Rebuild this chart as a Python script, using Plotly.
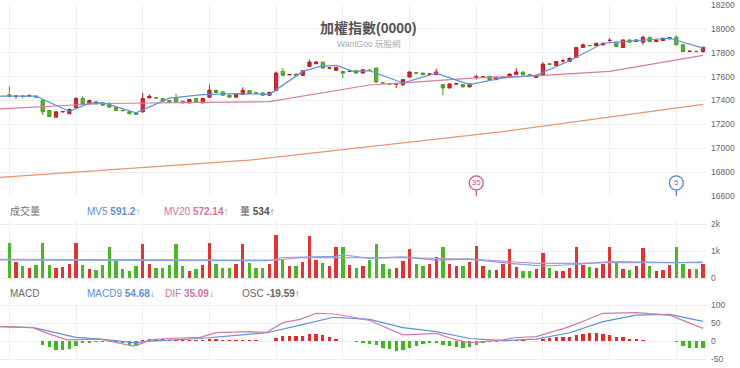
import plotly.graph_objects as go

# ---------------- data ----------------
idx = list(range(105))
opens = [17447,17434,17438,17436,17437,17400,17316,17261,17304,17289,
         17339,17417,17372,17389,17380,17366,17344,17318,17305,17297,
         17305,17422,17424,17417,17400,17417,17394,17380,17417,17380,
         17428,17486,17472,17444,17428,17450,17483,17465,17464,17444,
         17483,17644,17615,17622,17611,17686,17708,17722,17671,17653,
         17644,17643,17650,17630,17655,17672,17548,17540,17537,17533,
         17597,17632,17630,17621,17617,17533,17505,17538,17533,17514,
         17596,17597,17603,17575,17592,17594,17617,17639,17618,17594,
         17611,17707,17694,17732,17727,17761,17844,17862,17861,17866,
         17903,17889,17844,17908,17894,17889,17930,17894,17903,17917,
         17930,17867,17811,17812,17811]
highs = [17518,17442,17441,17447,17440,17405,17320,17310,17312,17332,
         17428,17436,17408,17395,17385,17388,17348,17322,17308,17300,
         17464,17450,17430,17420,17403,17456,17397,17412,17420,17420,
         17533,17489,17475,17447,17458,17511,17486,17469,17467,17472,
         17644,17672,17622,17625,17653,17742,17733,17725,17676,17681,
         17647,17648,17653,17662,17662,17675,17555,17545,17544,17580,
         17644,17636,17633,17626,17667,17536,17545,17545,17536,17542,
         17617,17605,17606,17598,17598,17625,17672,17642,17621,17614,
         17722,17712,17730,17750,17758,17847,17880,17866,17884,17884,
         17922,17892,17911,17911,17911,17944,17933,17909,17925,17931,
         17950,17870,17820,17818,17850]
lows = [17428,17415,17418,17432,17425,17278,17260,17250,17300,17285,
        17335,17362,17368,17368,17356,17340,17312,17310,17285,17279,
        17300,17418,17415,17390,17383,17385,17377,17377,17383,17377,
        17425,17464,17441,17425,17425,17447,17455,17460,17441,17441,
        17480,17608,17612,17605,17608,17683,17705,17669,17668,17650,
        17589,17640,17627,17627,17648,17550,17538,17532,17505,17520,
        17594,17627,17614,17618,17614,17444,17502,17535,17511,17511,
        17575,17592,17572,17572,17589,17591,17614,17614,17613,17591,
        17608,17700,17691,17714,17724,17758,17841,17856,17858,17864,
        17880,17850,17841,17886,17891,17866,17891,17891,17900,17914,
        17864,17808,17805,17805,17800]
closes = [17436,17438,17435,17443,17428,17305,17266,17305,17308,17325,
          17417,17367,17400,17372,17361,17344,17316,17315,17289,17283,
          17417,17436,17422,17394,17386,17389,17380,17408,17386,17417,
          17486,17467,17444,17428,17455,17486,17458,17463,17444,17469,
          17630,17611,17618,17608,17650,17722,17722,17672,17673,17678,
          17630,17645,17630,17658,17653,17555,17546,17538,17539,17575,
          17639,17630,17617,17623,17639,17505,17539,17540,17514,17539,
          17598,17598,17575,17594,17595,17622,17639,17617,17616,17611,
          17705,17704,17727,17734,17755,17844,17867,17860,17880,17880,
          17905,17853,17908,17889,17908,17930,17894,17906,17922,17928,
          17867,17811,17813,17810,17847]

volume = [1284,605,445,358,482,1309,482,383,420,519,
          1284,482,333,296,482,1161,642,333,259,445,
          1260,519,358,358,482,1247,445,272,333,482,
          1284,519,358,358,506,1260,543,358,358,519,
          1593,667,457,445,605,1556,667,543,457,1136,
          1161,482,358,457,667,1247,506,333,383,630,
          1062,519,445,506,766,1161,506,445,445,605,
          1186,457,296,296,519,1062,420,259,259,333,
          914,358,272,259,383,1161,482,420,383,506,
          1136,543,321,296,445,1124,445,259,296,482,
          1161,506,333,333,534]

osc = [1,1,1,1,1,-11,-16,-25,-25,-23,
       -14,-6,-5,-3,-3,-2,-3,-6,-12,-14,
       2,5,6,5,4,3,2,2,2,2,
       6,6,4,3,3,3,3,2,1,1,
       7,14,14,14,14,19,20,16,12,6,
       1,0.5,-4,-5,-8,-12,-20,-23,-27,-25,
       -19,-14,-8,-6,-5,-12,-14,-16,-19,-16,
       -11,-6,-4,-2,-1,1,2,2,1,1,
       5,8,10,10,12,17,19,21,21,19,
       17,12,10,6,5,3,1,0.3,0.3,-1,
       -4,-14,-19,-20,-19.59]

# moving-average lines, read at their visible vertices
ma5_x = [-1.4, 4, 9, 12, 14, 19, 24, 29, 34, 39, 44, 46.6, 49, 51.6, 54, 59, 64, 69, 74, 79, 84, 89, 94, 99, 104]
ma5_y = [17436, 17436, 17308, 17378, 17382, 17297, 17420, 17450, 17458, 17452, 17644, 17686, 17694, 17644,
         17650, 17547, 17630, 17533, 17589, 17611, 17733, 17880, 17903, 17922, 17839]
ma20_x = [-1.4, 9, 14, 39, 54, 59, 70, 80, 90, 104]
ma20_y = [17330, 17360, 17375, 17390, 17530, 17547, 17589, 17610, 17645, 17778]
malong_x = [-1.4, 36, 74, 104]
malong_y = [16756, 16900, 17139, 17367]

mv5_x = [-1.4, 20, 39, 41, 49, 50, 54, 59, 64, 69, 75, 80, 85, 90, 95, 100, 104]
mv5_y = [667, 640, 640, 760, 800, 860, 730, 780, 660, 700, 540, 445, 500, 605, 580, 570, 591.2]
mv20_x = [-1.4, 40, 44, 52, 60, 69, 79, 85, 90, 104]
mv20_y = [690, 660, 760, 760, 750, 700, 545, 545, 570, 572.14]

macd_x = [-1.4, 3.6, 10, 13.6, 19, 20.5, 28.6, 38.6, 43.6, 48.6, 54, 59, 64, 69, 74, 79, 84, 89, 94, 99, 104]
macd_y = [40, 37, 10, 5, -5, -1, 7, 23, 44, 66, 60, 37, 26, 7, 1, 5, 23, 54, 72, 74, 54.68]
dif_x = [-1.4, 3.6, 5, 8.6, 13.6, 18.6, 20, 21, 23.6, 28.6, 31, 36, 38.6, 41, 43.6, 46, 48.6, 51, 54,
         59, 64, 66.6, 69, 74, 75.6, 79, 84, 89, 94, 99, 104]
dif_y = [40, 37, 26, 3, 5, -14, -6, 3, 7, 10, 23, 26, 24, 51, 60, 77, 75, 68, 57,
         17, 21, 5, -5, 3, 9, 12, 40, 77, 79, 72, 35.09]

flag_idx = [70, 100]
flag_text = ["35", "5"]

price_ticks = [16600, 16800, 17000, 17200, 17400, 17600, 17800, 18000, 18200]
price_ticktext = ["16600", "16800", "17000", "17200", "17400", "17600", "17800", "18000", "18200"]
vol_ticks = [0, 1000, 2000]
vol_ticktext = ["0", "1k", "2k"]
macd_ticks = [-50, 0, 50, 100]
macd_ticktext = ["-50", "0", "50", "100"]

# ---------------- style ----------------
W, H = 740, 368
FONT = "Liberation Sans, Arial, Noto Sans CJK TC, sans-serif"
RED, GREEN = "#d9272f", "#5cb531"
VRED, VGREEN = "#e03535", "#4cb52a"
BLUE, PINK, ORANGE = "#5f91d8", "#d47aa6", "#e8956c"
X_RANGE = [-1.4, 104.6]
XR = 707 / W
GRID = "#eeeeee"
TICKFONT = dict(size=8.5, color="#666", family=FONT)

def py(px):
    return 1 - px / H

fig = go.Figure()

fig.add_trace(go.Candlestick(
    x=idx, open=opens, high=highs, low=lows, close=closes,
    increasing=dict(fillcolor=RED, line=dict(color="#b51f28", width=1)),
    decreasing=dict(fillcolor=GREEN, line=dict(color="#4a9a25", width=1)),
    whiskerwidth=0, showlegend=False, hoverinfo="skip", xaxis="x", yaxis="y"))

for xs, ys, col in [(malong_x, malong_y, ORANGE), (ma20_x, ma20_y, PINK), (ma5_x, ma5_y, BLUE)]:
    fig.add_trace(go.Scatter(x=xs, y=ys, mode="lines", line=dict(color=col, width=1.2),
                             showlegend=False, hoverinfo="skip", xaxis="x", yaxis="y"))

# flags
pmin, pmax = price_ticks[0], price_ticks[-1]
flag_y = pmin + (pmax - pmin) * 13 / 191
stem_top = pmin + (pmax - pmin) * 6 / 191
for fi, ft, col in zip(flag_idx, flag_text, ["#c8508a", "#4f7fd0"]):
    fig.add_trace(go.Scatter(x=[fi, fi], y=[pmin, stem_top], mode="lines",
                             line=dict(color=col, width=1.2), showlegend=False,
                             hoverinfo="skip", xaxis="x", yaxis="y"))
    fig.add_trace(go.Scatter(x=[fi], y=[flag_y], mode="markers+text", text=[ft],
                             textposition="middle center",
                             textfont=dict(size=8, color=col, family=FONT),
                             marker=dict(size=14, color="white", line=dict(color=col, width=1.2)),
                             showlegend=False, hoverinfo="skip", xaxis="x", yaxis="y"))

vcolors = [VRED if c >= o else VGREEN for o, c in zip(opens, closes)]
fig.add_trace(go.Bar(x=idx, y=volume, width=0.5, marker=dict(color=vcolors, line=dict(width=0)),
                     showlegend=False, hoverinfo="skip", xaxis="x2", yaxis="y2"))
fig.add_trace(go.Scatter(x=mv20_x, y=mv20_y, mode="lines", line=dict(color="#c98fc8", width=1.2),
                         showlegend=False, hoverinfo="skip", xaxis="x2", yaxis="y2"))
fig.add_trace(go.Scatter(x=mv5_x, y=mv5_y, mode="lines", line=dict(color="#7ea3e0", width=1.2),
                         showlegend=False, hoverinfo="skip", xaxis="x2", yaxis="y2"))

ocolors = ["#e02b2b" if v >= 0 else "#3fb522" for v in osc]
fig.add_trace(go.Bar(x=idx, y=osc, width=0.5, marker=dict(color=ocolors, line=dict(width=0)),
                     showlegend=False, hoverinfo="skip", xaxis="x3", yaxis="y3"))
fig.add_trace(go.Scatter(x=macd_x, y=macd_y, mode="lines", line=dict(color=BLUE, width=1.2),
                         showlegend=False, hoverinfo="skip", xaxis="x3", yaxis="y3"))
fig.add_trace(go.Scatter(x=dif_x, y=dif_y, mode="lines", line=dict(color=PINK, width=1.2),
                         showlegend=False, hoverinfo="skip", xaxis="x3", yaxis="y3"))

xcommon = dict(domain=[0, XR], range=X_RANGE, showticklabels=False, showgrid=True, gridcolor=GRID,
               gridwidth=1, tick0=0, dtick=10, zeroline=False, showline=False, ticks="",
               rangeslider=dict(visible=False), fixedrange=True)
ycommon = dict(side="right", showgrid=True, gridcolor=GRID, zeroline=False, showline=False, ticks="",
               tickfont=TICKFONT, ticklabelstandoff=3, ticklabeloverflow="allow", fixedrange=True)

# volume: 27 px per 1000, zero at y=278 px
VOL_LO, VOL_HI = -150, 2200
vol_top_px = 278 - VOL_HI * 27 / 1000
vol_bot_px = 278 - VOL_LO * 27 / 1000
# macd: 0.36 px per unit, 100 at y=305 px
MACD_LO, MACD_HI = -55, 108
macd_top_px = 305 - (MACD_HI - 100) * 0.36
macd_bot_px = 359 + (-50 - MACD_LO) * 0.36

fig.update_layout(
    width=W, height=H, margin=dict(l=0, r=0, t=0, b=0, autoexpand=False),
    paper_bgcolor="white", plot_bgcolor="white",
    font=dict(family=FONT),
    xaxis=dict(xcommon, anchor="y"),
    xaxis2=dict(xcommon, anchor="y2", matches="x"),
    xaxis3=dict(xcommon, anchor="y3", matches="x"),
    yaxis=dict(ycommon, domain=[py(196), py(5)], range=[pmin - 1, pmax + 1], tickvals=price_ticks,
               ticktext=price_ticktext, anchor="x"),
    yaxis2=dict(ycommon, domain=[py(vol_bot_px), py(vol_top_px)], range=[VOL_LO, VOL_HI],
                tickvals=vol_ticks, ticktext=vol_ticktext, anchor="x2", layer="above traces"),
    yaxis3=dict(ycommon, domain=[py(macd_bot_px), py(macd_top_px)], range=[MACD_LO, MACD_HI],
                tickvals=macd_ticks, ticktext=macd_ticktext, anchor="x3"),
    bargap=0, showlegend=False,
)

def ann(x, y, text, size=10, color="#666", anchor="left"):
    fig.add_annotation(x=x / W, y=py(y), xref="paper", yref="paper", text=text, showarrow=False,
                       xanchor=anchor, yanchor="middle", font=dict(size=size, color=color, family=FONT))

ann(368, 28, "<b>加權指數(0000)</b>", size=14, color="#555", anchor="center")
ann(368, 44, "WantGoo 玩股網", size=8.5, color="#aaa", anchor="center")

ann(8, 211, "成交量", color="#777")
ann(85, 211, "MV5 <b>%.1f</b>↑" % mv5_y[-1], color="#5f8fd8")
ann(162, 211, "MV20 <b>%.2f</b>↑" % mv20_y[-1], color="#d0739f")
ann(238, 211, "量 <b>%d</b>↑" % volume[-1], color="#555")

ann(8, 293, "MACD", color="#666")
ann(85, 293, "MACD9 <b>%.2f</b>↓" % macd_y[-1], color="#5f8fd8")
ann(163, 293, "DIF <b>%.2f</b>↓" % dif_y[-1], color="#d0739f")
ann(240, 293, "OSC <b>%.2f</b>↑" % osc[-1], color="#666")

fig.write_html("out.html", include_plotlyjs=True, config={"displayModeBar": False, "staticPlot": True},
               post_script="document.body.style.margin='0';document.body.style.padding='0';"
                           "document.documentElement.style.overflow='hidden';")
